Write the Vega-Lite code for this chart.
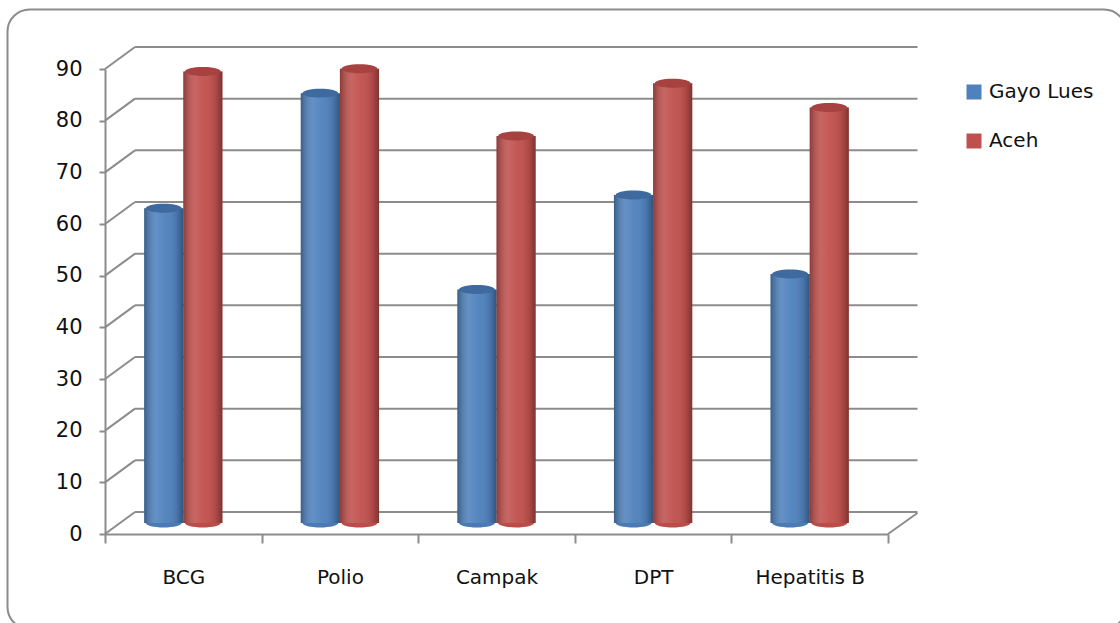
{
  "$schema": "https://vega.github.io/schema/vega-lite/v6.json",
  "width": 783,
  "height": 465,
  "autosize": {"type": "none"},
  "padding": {"left": 105, "top": 69, "right": 232, "bottom": 89},
  "background": "white",
  "config": {
    "view": {"stroke": null},
    "font": "DejaVu Sans",
    "axis": {"title": null}
  },
  "datasets": {
    "cakupan": [
      {"vaksin": "BCG", "wilayah": "Gayo Lues", "persen": 60.9},
      {"vaksin": "BCG", "wilayah": "Aceh", "persen": 87.4},
      {"vaksin": "Polio", "wilayah": "Gayo Lues", "persen": 83.2},
      {"vaksin": "Polio", "wilayah": "Aceh", "persen": 87.9},
      {"vaksin": "Campak", "wilayah": "Gayo Lues", "persen": 45.2},
      {"vaksin": "Campak", "wilayah": "Aceh", "persen": 74.9},
      {"vaksin": "DPT", "wilayah": "Gayo Lues", "persen": 63.5},
      {"vaksin": "DPT", "wilayah": "Aceh", "persen": 85.1},
      {"vaksin": "Hepatitis B", "wilayah": "Gayo Lues", "persen": 48.2},
      {"vaksin": "Hepatitis B", "wilayah": "Aceh", "persen": 80.4}
    ],
    "garis": [
      {"t": 0}, {"t": 10}, {"t": 20}, {"t": 30}, {"t": 40},
      {"t": 50}, {"t": 60}, {"t": 70}, {"t": 80}, {"t": 90}
    ]
  },
  "resolve": {"scale": {"fill": "independent"}},
  "layer": [
    {
      "description": "chart area border",
      "data": {"values": [{}]},
      "mark": {
        "type": "rect",
        "fill": "transparent",
        "stroke": "#8c8c8c",
        "strokeWidth": 2,
        "cornerRadius": 22,
        "x": -97.5,
        "x2": 1021,
        "y": -59.5,
        "y2": 560
      },
      "encoding": {}
    },
    {
      "description": "back wall gridlines",
      "data": {"name": "garis"},
      "mark": {"type": "rule", "color": "#8c8c8c", "strokeWidth": 2, "xOffset": 30, "x2Offset": 29.5, "yOffset": -22, "y2Offset": -22},
      "encoding": {
        "x": {"datum": "BCG", "bandPosition": 0},
        "x2": {"datum": "Hepatitis B", "bandPosition": 1},
        "y": {"field": "t", "type": "quantitative"},
        "y2": {"field": "t"}
      }
    },
    {
      "description": "depth connectors from the value axis to the back wall",
      "data": {"name": "garis"},
      "mark": {"type": "rule", "color": "#8c8c8c", "strokeWidth": 2, "x2Offset": 30, "y2Offset": -22},
      "encoding": {
        "x": {"datum": "BCG", "bandPosition": 0},
        "x2": {"datum": "BCG", "bandPosition": 0},
        "y": {"field": "t", "type": "quantitative"},
        "y2": {"field": "t"}
      }
    },
    {
      "description": "floor edge on the right",
      "data": {"values": [{"t": 0}]},
      "mark": {"type": "rule", "color": "#8c8c8c", "strokeWidth": 2, "x2Offset": 29.5, "y2Offset": -21},
      "encoding": {
        "x": {"datum": "Hepatitis B", "bandPosition": 1},
        "x2": {"datum": "Hepatitis B", "bandPosition": 1},
        "y": {"field": "t", "type": "quantitative"},
        "y2": {"field": "t"}
      }
    },
    {
      "description": "rounded cylinder bottoms",
      "data": {"name": "cakupan"},
      "mark": {"type": "point", "shape": "M-1,0A1,0.25,0,1,0,1,0A1,0.25,0,1,0,-1,0Z", "size": 1282, "filled": true, "opacity": 1, "yOffset": -11},
      "encoding": {
        "x": {"field": "vaksin", "type": "nominal", "sort": ["BCG", "Polio", "Campak", "DPT", "Hepatitis B"]},
        "xOffset": {"field": "wilayah", "sort": ["Gayo Lues", "Aceh"]},
        "y": {"datum": 0, "type": "quantitative"},
        "fill": {"field": "wilayah", "type": "nominal", "scale": {"domain": ["Gayo Lues", "Aceh"], "range": ["#4a7bb5", "#bb4d49"]}, "legend": null}
      }
    },
    {
      "data": {"name": "cakupan"},
      "mark": {"type": "bar", "yOffset": -11, "y2Offset": -11},
      "encoding": {
        "x": {
          "field": "vaksin",
          "type": "nominal",
          "sort": ["BCG", "Polio", "Campak", "DPT", "Hepatitis B"],
          "scale": {"paddingInner": 0, "paddingOuter": 0},
          "axis": {
            "labelAngle": 0,
            "labelAlign": "center",
            "labelFontSize": 20,
            "labelColor": "#111111",
            "labelPadding": 34,
            "tickBand": "extent",
            "tickSize": 9,
            "tickWidth": 2,
            "tickColor": "#8c8c8c",
            "domainColor": "#8c8c8c",
            "domainWidth": 2,
            "grid": false
          }
        },
        "xOffset": {
          "field": "wilayah",
          "sort": ["Gayo Lues", "Aceh"],
          "scale": {"paddingInner": 0, "paddingOuter": 1.186}
        },
        "y": {
          "field": "persen",
          "type": "quantitative",
          "scale": {"domain": [0, 90], "nice": false},
          "axis": {
            "values": [0, 10, 20, 30, 40, 50, 60, 70, 80, 90],
            "labelFontSize": 21,
            "labelColor": "#111111",
            "labelPadding": 17,
            "tickSize": 6,
            "tickWidth": 2,
            "tickColor": "#8c8c8c",
            "domainColor": "#8c8c8c",
            "domainWidth": 2,
            "grid": false
          }
        },
        "color": {
          "field": "wilayah",
          "type": "nominal",
          "sort": ["Gayo Lues", "Aceh"],
          "scale": {"domain": ["Gayo Lues", "Aceh"], "range": ["#4f81bd", "#c0504d"]},
          "legend": {
            "title": null,
            "orient": "none",
            "legendX": 859,
            "legendY": 13,
            "symbolType": "square",
            "symbolSize": 225,
            "symbolStrokeWidth": 0,
            "labelFontSize": 20,
            "labelColor": "#111111",
            "labelOffset": 5,
            "rowPadding": 29
          }
        }
      }
    },
    {
      "description": "cylinder shading",
      "data": {"name": "cakupan"},
      "mark": {
        "type": "bar",
        "yOffset": -11,
        "y2Offset": -11,
        "fill": {
          "gradient": "linear",
          "x1": 0, "y1": 0, "x2": 1, "y2": 0,
          "stops": [
            {"offset": 0, "color": "rgba(0,0,0,0.28)"},
            {"offset": 0.3, "color": "rgba(255,255,255,0.12)"},
            {"offset": 0.55, "color": "rgba(255,255,255,0.04)"},
            {"offset": 0.85, "color": "rgba(0,0,0,0.12)"},
            {"offset": 1, "color": "rgba(0,0,0,0.35)"}
          ]
        }
      },
      "encoding": {
        "x": {"field": "vaksin", "type": "nominal", "sort": ["BCG", "Polio", "Campak", "DPT", "Hepatitis B"]},
        "xOffset": {"field": "wilayah", "sort": ["Gayo Lues", "Aceh"]},
        "y": {"field": "persen", "type": "quantitative"}
      }
    },
    {
      "description": "cylinder tops",
      "data": {"name": "cakupan"},
      "mark": {"type": "point", "shape": "M-1,0A1,0.25,0,1,0,1,0A1,0.25,0,1,0,-1,0Z", "size": 1282, "filled": true, "opacity": 1, "yOffset": -11},
      "encoding": {
        "x": {"field": "vaksin", "type": "nominal", "sort": ["BCG", "Polio", "Campak", "DPT", "Hepatitis B"]},
        "xOffset": {"field": "wilayah", "sort": ["Gayo Lues", "Aceh"]},
        "y": {"field": "persen", "type": "quantitative"},
        "fill": {"field": "wilayah", "type": "nominal", "scale": {"domain": ["Gayo Lues", "Aceh"], "range": ["#3e6a9f", "#a6423f"]}, "legend": null}
      }
    }
  ]
}
